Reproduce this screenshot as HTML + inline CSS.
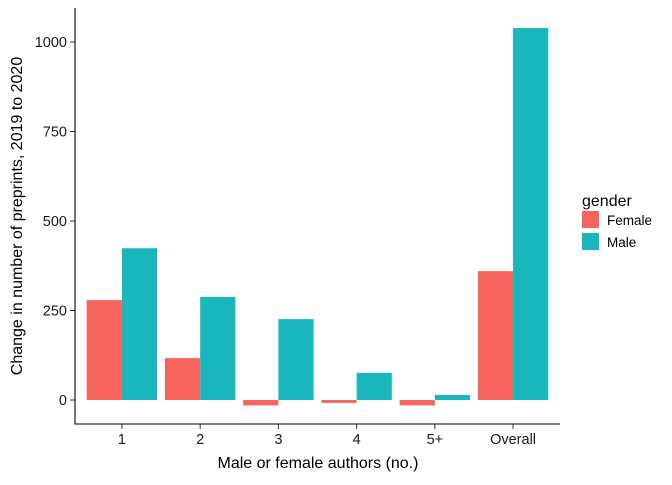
<!DOCTYPE html>
<html><head><meta charset="utf-8"><style>
body{margin:0;background:#fff;font-family:"Liberation Sans",Arial,sans-serif}
</style></head><body>
<svg id="chart" width="672" height="480" viewBox="0 0 672 480" xmlns="http://www.w3.org/2000/svg">
<g id="plot"></g>
<g>
<text x="582" y="206" font-size="16" fill="#000">gender</text>
<rect x="582" y="211" width="17" height="17" fill="#F5645D"/>
<text x="607" y="225" font-size="13.5">Female</text>
<rect x="582" y="233" width="17" height="17" fill="#19B7BB"/>
<text x="607" y="247" font-size="13.5">Male</text>
</g>
<text x="318" y="468" font-size="16" text-anchor="middle">Male or female authors (no.)</text>
<text transform="translate(22,216) rotate(-90)" font-size="16" text-anchor="middle">Change in number of preprints, 2019 to 2020</text>
</svg>
<script>
const categories=["1","2","3","4","5+","Overall"];
const female=[279,117,-15,-8,-15,360];
const male=[424,288,226,76,14,1039];
const yTicks=[0,250,500,750,1000];
const NS="http://www.w3.org/2000/svg";
const g=document.getElementById('plot');
const L=75,R=560,T=8,B=424,ymin=-67,ymax=1095;
const y=v=>B-(v-ymin)/(ymax-ymin)*(B-T);
const step=(R-L)/(categories.length+0.2);
const x=i=>L+step*(i+0.6);
const bw=step*0.45;
function mk(t,a){const e=document.createElementNS(NS,t);for(const k in a)e.setAttribute(k,a[k]);g.appendChild(e);return e;}
categories.forEach((c,i)=>{
 [[female[i],-1,"#F5645D","female"],[male[i],0,"#19B7BB","male"]].forEach(([v,o,col,n])=>{
  const r=mk('rect',{x:x(i)+o*bw,y:Math.min(y(v),y(0)),width:bw,height:Math.abs(y(v)-y(0)),fill:col});
  
  
 });
 const tk=mk('line',{x1:x(i),x2:x(i),y1:B,y2:B+5,stroke:'#333'});
 
 
 const t=mk('text',{x:x(i),y:B+20,'font-size':14.5,'text-anchor':'middle',fill:'#1a1a1a'});
 t.textContent=c;
 
 
});
yTicks.forEach(v=>{
 const tk=mk('line',{x1:L-5,x2:L,y1:y(v),y2:y(v),stroke:'#333'});
 
 
 const t=mk('text',{x:L-8,y:y(v)+5,'font-size':14.5,'text-anchor':'end',fill:'#1a1a1a'});
 t.textContent=v;
 
 
});
const ax=mk('path',{d:`M${L},${T}V${B}H${R}`,fill:'none',stroke:'#000','stroke-width':1.1});


</script>
</body></html>
